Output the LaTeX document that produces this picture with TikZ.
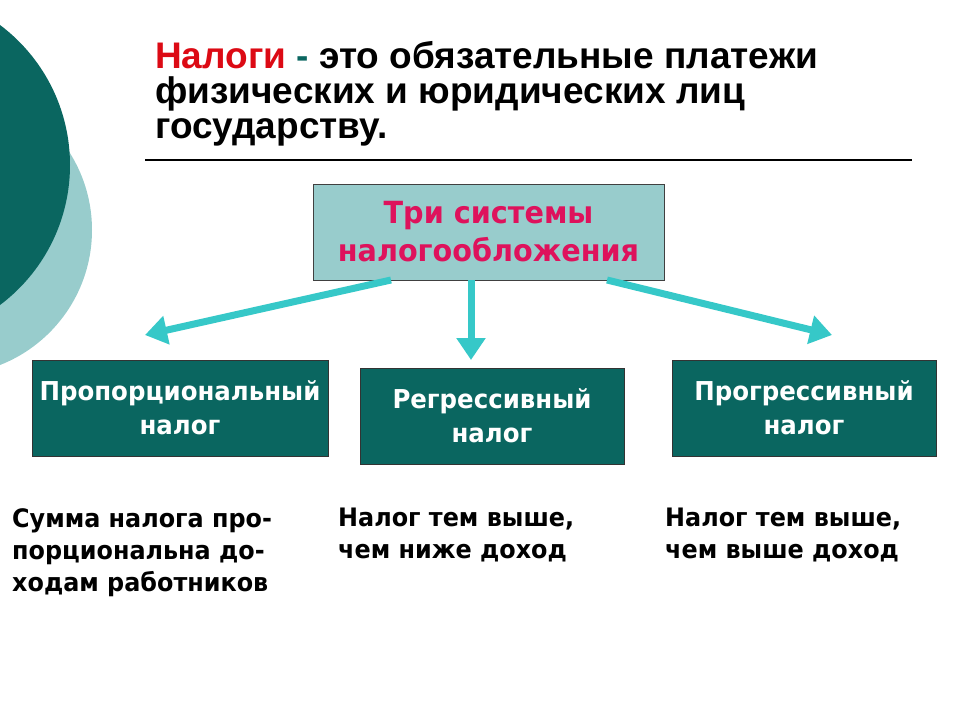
\documentclass[tikz,border=0pt]{standalone}
\usepackage{fontspec}
\usetikzlibrary{arrows.meta}
\newfontfamily\titlefont{Liberation Sans}
\newfontfamily\tahfont[FakeStretch=0.94]{DejaVu Sans}
\definecolor{darkteal}{RGB}{10,102,96}
\definecolor{lightteal}{RGB}{152,204,204}
\definecolor{arrowteal}{RGB}{54,200,200}
\definecolor{titlered}{RGB}{220,10,20}
\definecolor{magentatext}{RGB}{222,18,92}
\tikzset{
  titleline/.style={anchor=base west, inner sep=0pt, font=\titlefont\bfseries\fontsize{37}{38}\selectfont},
  topbox/.style={draw=black!75, line width=1pt, fill=lightteal, minimum width=351pt, minimum height=96pt,
     align=center, text=magentatext, font=\tahfont\bfseries\fontsize{30.5}{38}\selectfont},
  taxbox/.style={draw=black!80, line width=1pt, fill=darkteal, minimum width=264pt, minimum height=96pt,
     align=center, text=white, font=\tahfont\bfseries\fontsize{26}{34}\selectfont},
  desc/.style={anchor=north west, inner sep=0pt, align=left, font=\tahfont\bfseries\fontsize{25.4}{32}\selectfont},
  bigarrow/.style={draw=arrowteal, line width=7pt, -{Triangle[length=22pt,width=28pt]}}
}
\begin{document}
\begin{tikzpicture}[x=1pt,y=-1pt]
\useasboundingbox (0,0) rectangle (960,720);
\begin{scope}
  \clip (0,0) rectangle (960,720);
  \fill[lightteal] (-53,230) circle (145);
  \fill[darkteal] (-105,165) circle (175);
\end{scope}
% title
\node[titleline] (t1) at (155,68) {\textcolor{titlered}{Налоги} \textcolor{darkteal}{-} это обязательные платежи};
\node[titleline] (t2) at (155,103) {физических и юридических лиц};
\node[titleline] (t3) at (155,138) {государству.};
\coordinate (rl) at (145,160);
\coordinate (rr) at (912,160);
\draw[line width=1.5pt] (rl) -- (rr);
% boxes
\node[topbox] (top) at (488.5,232) {Три системы\\налогообложения};
\node[taxbox, minimum width=296pt] (prop) at (180,408) {Пропорциональный\\налог};
\node[taxbox] (regr) at (492,416) {Регрессивный\\налог};
\node[taxbox] (progr) at (804,408) {Прогрессивный\\налог};
% arrows
\coordinate (la) at (391,280);
\coordinate (lt) at (145,335);
\coordinate (ra) at (607,280);
\coordinate (rt) at (832,335);
\coordinate (ma) at (471,280);
\coordinate (mt) at (471,360);
\draw[bigarrow] (la) -- (lt);
\draw[bigarrow] (ma) -- (mt);
\draw[bigarrow] (ra) -- (rt);
% descriptions
\node[desc] (d1) at (12,508) {Сумма налога про-\\порциональна до-\\ходам работников};
\node[desc] (d2) at (338,508) {Налог тем выше,\\чем ниже доход};
\node[desc] (d3) at (665,508) {Налог тем выше,\\чем выше доход};
\end{tikzpicture}
\end{document}
